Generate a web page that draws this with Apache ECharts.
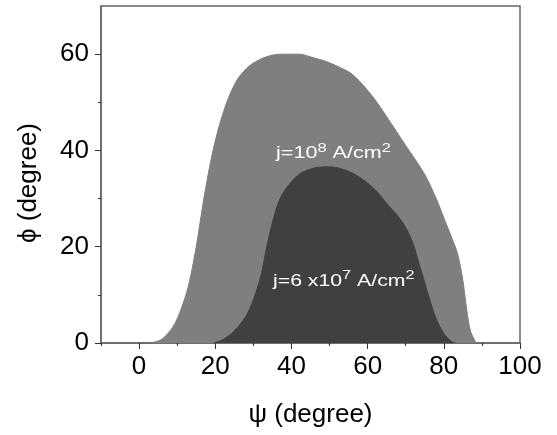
<!DOCTYPE html>
<html>
<head>
<meta charset="utf-8">
<script src="https://cdn.jsdelivr.net/npm/echarts@6/dist/echarts.min.js"></script>
<style>html,body{margin:0;padding:0;background:#fff}#c{width:557px;height:435px}</style>
</head>
<body>
<div id="c"></div>
<script>
// Outer region (j = 10^8 A/cm^2)
var psiOuter = [3, 6, 9, 11, 13, 15, 17, 19, 21, 23.5, 26, 29, 32, 35, 38, 42, 46, 49, 52, 56, 61, 65, 70, 75, 78, 80, 82, 83.6, 85, 86, 87, 88.5];
var phiOuter = [0, 0.8, 3.5, 7, 12, 20, 30, 38.5, 45, 51, 55, 57.6, 59, 59.8, 60, 60, 59.2, 58.5, 57.5, 55.8, 51.5, 47, 41, 35, 30, 26, 22, 18.6, 13, 7, 2.5, 0];
// Inner region (j = 6x10^7 A/cm^2)
var psiInner = [19.5, 22, 25, 28, 30, 32, 33.5, 35, 37, 40, 43, 47, 50, 53, 56, 59, 62, 65, 68, 70, 72, 73.5, 75, 76.5, 78, 80, 82, 83];
var phiInner = [0, 0.7, 2.5, 5.5, 9, 14, 20, 25, 30, 33.5, 35.5, 36.5, 36.6, 36.2, 35.3, 33.8, 31.8, 29, 26.3, 24, 20.5, 16.5, 12.5, 8.5, 5, 2, 0.3, 0];
// Axis ticks
var xTicks = [0, 20, 40, 60, 80, 100];
var xMinorTicks = [-10, 10, 30, 50, 70, 90];
var yTicks = [0, 20, 40, 60];
var yMinorTicks = [10, 30, 50];
var xName = 'ψ (degree)';
var yName = 'ϕ (degree)';

function zip(a, b) { return a.map(function (v, i) { return [v, b[i]]; }); }

var FONT = "'Liberation Sans', Arial, sans-serif";
var chart = echarts.init(document.getElementById('c'), null, {renderer: 'canvas'});

var axisLineStyle = {color: '#666', width: 1.5};
var option = {
  animation: false,
  backgroundColor: '#fff',
  grid: {left: 101, right: 37, top: 6, bottom: 92, show: true, borderColor: '#666', borderWidth: 1.5, backgroundColor: 'transparent'},
  xAxis: [{
    type: 'value', min: -10, max: 100, position: 'bottom',
    name: xName, nameLocation: 'middle', nameGap: 59,
    nameTextStyle: {fontFamily: FONT, fontSize: 26, color: '#000'},
    axisLine: {show: true, onZero: false, lineStyle: axisLineStyle},
    axisTick: {show: true, inside: false, length: 6, customValues: xTicks, lineStyle: {color: '#333', width: 1}},
    axisLabel: {show: true, customValues: xTicks, margin: 11, fontFamily: FONT, fontSize: 26, color: '#000'},
    splitLine: {show: false}
  }, {
    type: 'value', min: -10, max: 100, position: 'bottom',
    axisLine: {show: false, onZero: false},
    axisTick: {show: true, length: 3, customValues: xMinorTicks, lineStyle: {color: '#333', width: 1}},
    axisLabel: {show: false},
    splitLine: {show: false}
  }],
  yAxis: [{
    type: 'value', min: 0, max: 70, position: 'left',
    axisLine: {show: true, onZero: false, lineStyle: axisLineStyle},
    axisTick: {show: true, length: 6, customValues: yTicks, lineStyle: {color: '#333', width: 1}},
    axisLabel: {show: true, customValues: yTicks, margin: 12, fontFamily: FONT, fontSize: 26, color: '#000'},
    splitLine: {show: false}
  }, {
    type: 'value', min: 0, max: 70, position: 'left',
    axisLine: {show: false, onZero: false},
    axisTick: {show: true, length: 3, customValues: yMinorTicks, lineStyle: {color: '#333', width: 1}},
    axisLabel: {show: false},
    splitLine: {show: false}
  }],
  series: [{
    type: 'line', xAxisIndex: 0, yAxisIndex: 0,
    data: zip(psiOuter, phiOuter),
    smooth: 0.3, showSymbol: false, symbol: 'none',
    lineStyle: {width: 1, color: '#7f7f7f'},
    areaStyle: {color: '#7f7f7f', opacity: 1},
    z: 1
  }, {
    type: 'line', xAxisIndex: 0, yAxisIndex: 0,
    data: zip(psiInner, phiInner),
    smooth: 0.3, showSymbol: false, symbol: 'none',
    lineStyle: {width: 1, color: '#404040'},
    areaStyle: {color: '#404040', opacity: 1},
    z: 2
  }],
  graphic: [{
    type: 'text', x: 276, y: 141.5, scaleX: 1.27, z: 100,
    style: {
      text: '{a|j=10}{s|8}{a| A/cm}{s|2}',
      textAlign: 'left', textVerticalAlign: 'top',
      rich: {
        a: {fontFamily: FONT, fontSize: 17, lineHeight: 24, verticalAlign: 'middle', fill: '#fff', color: '#fff'},
        s: {fontFamily: FONT, fontSize: 13, lineHeight: 13, verticalAlign: 'top', fill: '#fff', color: '#fff'}
      }
    }
  }, {
    type: 'text', x: 273, y: 269, scaleX: 1.25, z: 100,
    style: {
      text: '{a|j=6 x10}{s|7}{a| A/cm}{s|2}',
      textAlign: 'left', textVerticalAlign: 'top',
      rich: {
        a: {fontFamily: FONT, fontSize: 17, lineHeight: 24, verticalAlign: 'middle', fill: '#fff', color: '#fff'},
        s: {fontFamily: FONT, fontSize: 13, lineHeight: 13, verticalAlign: 'top', fill: '#fff', color: '#fff'}
      }
    }
  }, {
    type: 'text', x: 29, y: 183, rotation: Math.PI / 2, z: 100,
    style: {
      text: yName, fontFamily: FONT, fontSize: 26, fill: '#000',
      textAlign: 'center', textVerticalAlign: 'middle'
    }
  }]
};
chart.setOption(option);
</script>
</body>
</html>
